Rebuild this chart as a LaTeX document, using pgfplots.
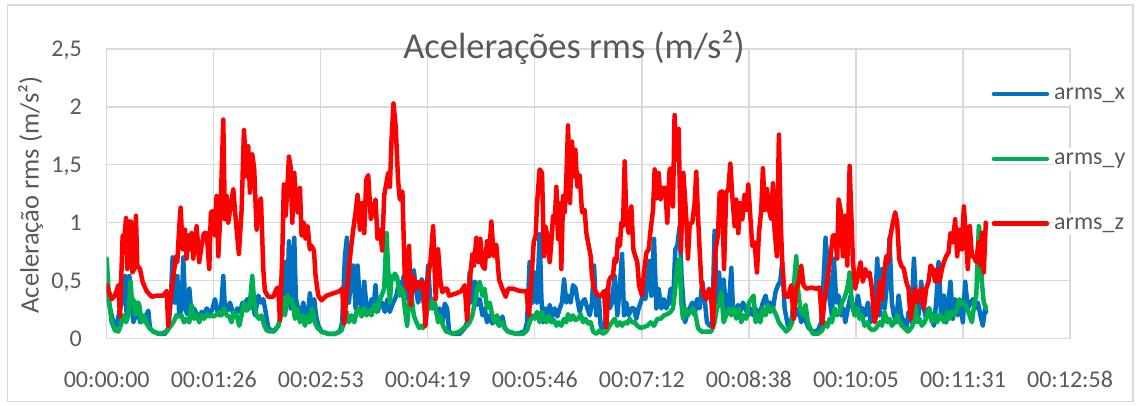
\documentclass[border=0pt]{standalone}
\usepackage{fontspec}
\setmainfont{Carlito}
\usepackage{pgfplots}
\usepackage{pgfplotstable}
\pgfplotsset{compat=1.18}
\definecolor{txtgray}{HTML}{595959}
\definecolor{gridgray}{HTML}{D9D9D9}
\definecolor{xblue}{HTML}{0070C0}
\definecolor{ygreen}{HTML}{00B050}
\definecolor{zred}{HTML}{FF0000}

% time in seconds, value in m/s^2
\pgfplotstableread{
t v
0 0.43
2.7 0.26
5.4 0.14
8 0.11
10.2 0.23
12.1 0.31
14.8 0.54
16.1 0.20
18.3 0.54
20.1 0.31
21.5 0.14
23.6 0.20
25.5 0.31
26.9 0.14
29.6 0.17
31.7 0.20
33.6 0.24
34.9 0.09
37.6 0.06
41.7 0.04
47 0.04
49.7 0.09
51.6 0.31
53.2 0.70
55.1 0.31
57 0.54
58.6 0.20
60.5 0.26
61.8 0.70
63.4 0.26
65 0.21
66.7 0.43
68.5 0.20
70.4 0.26
72.6 0.21
74.7 0.17
76.6 0.23
78.5 0.20
80.7 0.26
83.3 0.21
85.5 0.26
87.4 0.34
88.7 0.26
90.9 0.20
92.7 0.31
94.1 0.54
95.4 0.26
97.3 0.24
99.5 0.31
101.6 0.23
103.5 0.20
105.4 0.26
107.5 0.23
109.7 0.31
111.6 0.30
113.5 0.34
115.1 0.26
117 0.34
119.7 0.20
122.4 0.37
124.5 0.31
126.4 0.34
128.3 0.23
130.4 0.09
134.5 0.06
138.5 0.11
140.6 0.20
142.5 0.49
144.4 0.66
145.8 0.31
147.1 0.84
148.4 0.26
149.8 0.37
151.4 0.87
152.7 0.34
154.6 0.26
156.8 0.17
158.7 0.31
160.5 0.20
162.2 0.14
164 0.39
165.4 0.26
167.5 0.34
168.9 0.20
170.8 0.11
173.4 0.06
178.8 0.04
184.2 0.04
188.2 0.06
190.1 0.14
192.3 0.71
193.9 0.87
195.5 0.31
197.1 0.49
199 0.63
200.9 0.26
202.5 0.63
204.4 0.31
206.3 0.26
207.9 0.49
209.8 0.26
211.6 0.23
213.8 0.34
215.4 0.26
217 0.46
218.6 0.23
220.5 0.29
222.4 0.31
224.5 0.23
226.7 0.34
228.5 0.23
231.2 0.31
233.9 0.37
236 0.49
237.9 0.43
239.8 0.54
241.9 0.43
244.1 0.31
246 0.49
247.9 0.59
249.5 0.43
251.4 0.31
252.7 0.37
254.3 0.51
255.9 0.31
257.5 0.23
259.4 0.63
261.3 0.31
262.9 0.26
264.8 0.31
266.7 0.20
268.8 0.26
271 0.14
272.9 0.30
274.8 0.26
276.4 0.06
279.6 0.04
285 0.04
289 0.09
290.9 0.14
293 0.57
295.2 0.31
297.1 0.49
299 0.29
301.1 0.34
303.3 0.20
305.1 0.26
307 0.14
309.2 0.20
311.3 0.13
314 0.17
316.7 0.11
319.4 0.19
321.3 0.09
324 0.06
330.7 0.04
337.4 0.06
339.3 0.14
341.4 0.66
343.6 0.31
345.5 0.57
347.4 0.31
349.5 0.90
350.9 0.34
352.2 0.14
354.1 0.26
356.3 0.20
357.6 0.29
359.5 0.19
361.6 0.26
363.8 0.19
365.7 0.26
367.5 0.31
369.2 0.51
371 0.31
372.4 0.37
374.5 0.31
376.4 0.46
378.3 0.44
379.9 0.34
381.8 0.23
383.7 0.31
385.8 0.34
388 0.26
389.9 0.20
391.7 0.31
393.4 0.63
395.2 0.20
397.1 0.37
398.7 0.11
400.6 0.09
402.5 0.14
404.1 0.43
406 0.26
407.9 0.31
410 0.54
412.2 0.20
414.1 0.43
416 0.73
417.6 0.20
419.4 0.31
421.3 0.20
423.5 0.26
425.6 0.26
427.5 0.17
429.4 0.26
431 0.31
432.9 0.37
434.8 0.34
436.4 0.49
438.3 0.67
439.6 0.37
441.8 0.86
443.7 0.26
445.5 0.43
447.7 0.26
449.8 0.34
451.7 0.26
453.6 0.31
455.2 0.43
457.1 0.29
459 0.77
460.6 0.80
462.5 0.97
464 0.54
465.5 0.31
466.8 0.14
468.4 0.20
470.6 0.26
472.7 0.31
474.6 0.20
476.5 0.34
478.6 0.26
480.8 0.49
482.7 0.34
484.5 0.14
486.7 0.11
488.9 0.14
490.7 0.93
492.6 0.31
494.2 0.57
496.1 0.37
498 0.51
500.1 0.23
502.3 0.29
504.2 0.61
505.5 0.26
507.7 0.20
509.6 0.29
511.4 0.23
513.6 0.31
515.7 0.26
517.6 0.20
519.5 0.26
521.7 0.20
523.8 0.26
525.7 0.19
527.6 0.23
529.7 0.31
531.9 0.37
533.8 0.26
535.6 0.31
537.8 0.26
539.9 0.40
541.8 0.46
543.7 0.49
545.3 0.66
547.2 0.26
549.9 0.11
552.6 0.14
554.5 0.31
556.6 0.20
558.8 0.26
560.6 0.14
562.5 0.23
564.7 0.14
566.8 0.09
570.1 0.06
574.1 0.07
576.8 0.14
578.7 0.51
580.3 0.87
582.2 0.60
583.5 0.34
585.4 0.20
587 0.69
588.9 0.31
590.8 0.37
592.9 0.20
594.6 0.26
596.2 0.14
598.3 0.26
600.5 0.37
602.4 0.26
604.2 0.20
606.4 0.37
608.5 0.23
610.4 0.26
612.3 0.20
614.5 0.31
616.6 0.14
618.5 0.20
620.4 0.31
622 0.69
623.9 0.20
625.8 0.60
627.9 0.26
630.1 0.49
631.9 0.87
633.8 0.31
635.4 0.20
637.3 0.14
639.2 0.37
641.3 0.20
643.5 0.14
645.4 0.09
647.3 0.23
649.4 0.14
651.6 0.69
653.4 0.31
655.3 0.20
657.5 0.49
659.6 0.26
661.5 0.17
663.4 0.26
665.5 0.20
667.7 0.11
669.6 0.31
671.5 0.66
673.6 0.20
675.8 0.37
677.6 0.14
679.5 0.31
681.1 0.49
683 0.17
684.9 0.34
687.1 0.20
689.2 0.31
691.1 0.14
693 0.49
695.1 0.26
697.3 0.31
699.2 0.34
701.1 0.26
703.2 0.31
705.3 0.20
707.2 0.11
709.1 0.26
709.9 0.23
}\armsx

\pgfplotstableread{
t v
0 0.69
2.1 0.31
4 0.14
6.7 0.07
9.4 0.06
11.3 0.11
13.4 0.20
15.6 0.14
17.5 0.20
19.3 0.49
20.4 0.31
21.5 0.34
23.1 0.20
24.7 0.31
26.3 0.29
28.2 0.14
30.1 0.20
32.2 0.13
34.4 0.09
37.6 0.06
43 0.04
48.4 0.06
51.1 0.10
53.8 0.14
56.4 0.20
58.6 0.19
60.5 0.20
62.4 0.14
64.5 0.17
66.7 0.14
68.5 0.29
70.4 0.17
72.6 0.20
74.7 0.14
76.6 0.20
78.5 0.17
80.7 0.21
82.8 0.19
84.7 0.20
86.6 0.19
88.7 0.21
90.9 0.23
92.7 0.20
94.6 0.26
96.8 0.20
98.9 0.19
100.8 0.14
102.7 0.23
104.9 0.20
107 0.11
108.9 0.20
110.8 0.31
112.9 0.24
115.3 0.27
117.5 0.54
119.1 0.31
121 0.20
122.9 0.17
125 0.20
127.2 0.11
129.1 0.07
131.8 0.06
135.8 0.07
138.5 0.11
140.6 0.20
142.5 0.34
143.9 0.20
146 0.37
147.9 0.31
149.8 0.34
151.9 0.17
154.1 0.26
156 0.14
157.9 0.20
160 0.11
162.2 0.20
164 0.14
165.9 0.26
168.1 0.14
170.2 0.09
173.4 0.06
178.8 0.04
184.2 0.04
189.6 0.07
191.7 0.14
193.6 0.23
195.5 0.14
197.6 0.20
199.8 0.14
201.7 0.23
203.6 0.26
205.7 0.19
207.9 0.26
209.8 0.20
211.6 0.24
213.8 0.20
215.9 0.29
217.8 0.23
219.7 0.31
221.9 0.37
224 0.43
225.9 0.91
227.2 0.60
228.6 0.31
229.9 0.54
231.3 0.51
232.5 0.56
234.4 0.53
236.6 0.37
238.7 0.43
240.6 0.26
242.5 0.11
244.1 0.31
246 0.37
247.9 0.20
250 0.14
252.2 0.09
254 0.11
255.4 0.09
257.5 0.14
259.4 0.31
261.3 0.26
263.5 0.34
265.6 0.26
267.5 0.14
269.4 0.19
271.5 0.11
274.2 0.06
279.6 0.04
285 0.06
288.2 0.09
290.9 0.11
293 0.14
295.2 0.20
297.1 0.31
299 0.43
301.1 0.49
303.3 0.37
305.1 0.43
307 0.26
309.2 0.31
311.3 0.20
313.2 0.14
315.1 0.20
317.2 0.11
319.4 0.14
321.3 0.09
324 0.06
330.7 0.04
336.1 0.04
339.3 0.07
341.4 0.14
343.6 0.20
345.5 0.17
347.4 0.23
349.5 0.14
351.4 0.23
353 0.17
354.9 0.14
356.8 0.20
358.9 0.14
361.1 0.16
363 0.11
364.9 0.14
367 0.11
369.2 0.17
371 0.14
372.4 0.21
374.5 0.16
376.4 0.20
378.3 0.16
380.5 0.17
382.6 0.21
384.5 0.14
386.4 0.17
388.5 0.13
390.7 0.14
392.6 0.06
395.2 0.04
397.9 0.07
400.6 0.04
403.3 0.06
406 0.11
407.9 0.14
410 0.17
412.2 0.11
414.1 0.14
416 0.11
418.1 0.14
420.3 0.13
422.1 0.17
424 0.14
426.2 0.14
428.3 0.11
431 0.09
433.7 0.10
436.4 0.11
439.1 0.14
441.8 0.11
444.5 0.17
447.1 0.17
449.8 0.20
452.5 0.21
455.2 0.23
457.1 0.26
459 0.43
460.6 0.63
462.5 0.69
463.8 0.31
465.2 0.17
467.3 0.26
469.2 0.20
471.1 0.23
473.3 0.26
475.4 0.20
477.3 0.09
480 0.06
484 0.06
488 0.06
490.7 0.14
492.6 0.26
494.8 0.31
496.1 0.40
498 0.14
500.1 0.20
502.3 0.26
504.2 0.20
506.1 0.26
508.2 0.17
510.4 0.26
512.2 0.14
514.1 0.20
516.3 0.17
518.4 0.31
520.3 0.34
522.2 0.37
523.8 0.14
525.7 0.20
527.6 0.14
529.7 0.26
531.9 0.20
533.8 0.29
535.6 0.23
537.8 0.26
540.5 0.20
542.6 0.14
544.5 0.11
546.4 0.09
548.5 0.06
551.2 0.09
553.4 0.14
555.3 0.54
556.6 0.71
558 0.43
559.8 0.26
562 0.20
564.1 0.29
566 0.14
567.9 0.09
570.1 0.04
574.1 0.04
577.6 0.07
579.5 0.14
581.7 0.10
583.5 0.17
585.4 0.14
587.6 0.26
589.7 0.20
591.6 0.23
593.5 0.31
595.1 0.34
597 0.40
598.3 0.46
599.7 0.57
601.5 0.31
603.7 0.20
605.9 0.26
607.7 0.17
609.6 0.20
611.8 0.11
613.9 0.14
615.8 0.09
618.5 0.07
621.2 0.09
623.9 0.14
625.8 0.11
627.9 0.23
630.1 0.14
631.9 0.17
633.8 0.11
636 0.14
638.1 0.20
640 0.14
641.9 0.11
644 0.09
646.7 0.06
649.4 0.09
651.6 0.14
652.6 0.29
654.3 0.14
656.1 0.17
658 0.11
660.2 0.14
662.3 0.20
664.2 0.26
666.1 0.14
668.2 0.20
670.4 0.14
672.3 0.21
674.2 0.17
676.3 0.14
678.5 0.23
680.3 0.17
682.2 0.23
684.4 0.20
686.5 0.26
688.4 0.34
690.3 0.29
692.4 0.31
694.6 0.26
696.5 0.20
698.4 0.14
700.5 0.31
701.9 0.37
703.2 0.71
704 0.97
705.1 0.89
706.4 0.49
708 0.31
709.9 0.26
}\armsy

\pgfplotstableread{
t v
0 0.46
4 0.34
6.7 0.37
9.4 0.46
10.7 0.19
12.9 0.89
14 0.83
15.6 1.04
16.7 0.60
18.3 1.01
19.6 1.01
20.7 0.57
22.3 0.60
23.6 1.06
24.7 0.63
26.9 0.60
29 0.49
32.2 0.41
36.3 0.36
40.3 0.37
45.7 0.37
48.4 0.41
49.7 0.11
51.1 0.31
53.8 0.54
55.9 0.71
57 0.66
58.6 0.97
59.7 1.13
61.3 0.77
63.2 0.94
64.5 0.69
65.9 0.89
67.2 0.77
68.5 0.91
69.9 0.69
72.6 0.97
74.7 0.66
76.6 0.80
78.5 0.91
80.7 0.91
82.8 0.60
84.1 1.09
86 1.10
87.4 0.89
88.7 1.23
90.1 0.71
91.9 1.11
94.1 1.89
95.4 1.03
96.8 1.23
98.1 1.00
100 1.14
102.2 1.29
103.5 1.11
104.9 0.94
106.7 0.73
108.9 1.11
110.8 1.80
112.9 1.40
114.3 1.66
115.6 1.26
117.5 1.59
119.1 1.46
121 0.94
122.9 1.17
124.5 1.21
126.4 0.60
127.7 0.41
130.4 0.36
134.5 0.36
137.1 0.43
138.5 0.44
139.8 0.16
141.7 0.71
143 1.33
144.4 1.06
145.8 1.29
147.1 1.57
148.4 1.49
149.8 1.00
151.4 1.43
152.7 1.23
154.1 1.09
156 1.30
157.3 0.89
159.2 1.00
160.5 0.86
162.2 0.97
164 0.77
165.4 0.80
167.3 0.76
168.6 0.54
170.8 0.37
173.4 0.33
177.5 0.37
182.9 0.39
188.2 0.41
190.1 0.43
191.7 0.13
193.6 0.37
195.5 0.60
197.1 0.77
199 0.94
200.9 1.09
202.5 1.24
204.4 0.94
206.3 1.17
207.9 0.91
209.5 1.37
211.1 1.41
213.2 1.03
215.1 1.11
217 1.20
218.6 0.86
220.5 0.94
222.4 0.76
224 1.24
225.6 1.33
227.2 1.43
228.6 1.31
229.9 1.71
231.5 2.03
233.3 1.83
235.2 1.37
236.6 1.20
238.7 1.27
240.6 0.54
242.5 0.43
244.1 0.80
245.4 0.29
247.3 0.54
249.5 0.43
251.4 0.49
253.2 0.44
255.4 0.49
257.3 0.11
259.4 0.54
261.3 0.66
263.5 0.97
265.6 0.34
267.5 0.77
269.4 0.49
271 0.40
272.9 0.43
274.8 0.43
276.4 0.37
282.3 0.39
286.3 0.41
289 0.46
290.9 0.16
293 0.49
295.2 0.73
296.5 0.63
298.4 0.87
300.3 0.66
301.6 0.86
303.3 0.63
305.1 0.60
307 0.84
308.6 0.71
310.5 1.01
312.4 0.71
314.5 0.81
316.7 0.51
319.4 0.43
322.1 0.36
324 0.43
328 0.43
333.4 0.41
338.8 0.41
340.9 0.20
342.8 0.51
344.7 0.83
346.3 0.89
347.4 1.17
349.5 1.46
351.4 1.43
353 0.71
354.1 0.97
355.7 0.89
357.6 0.66
358.9 0.83
360.3 1.06
361.6 1.00
363 1.31
364.3 0.86
365.7 1.17
367 0.60
368.4 1.23
369.7 1.09
371 1.37
372.4 1.84
374 1.17
375.6 1.70
377.2 1.40
378.3 1.63
379.9 1.31
381.8 1.41
383.7 1.09
385.8 1.11
387.2 0.91
389.1 0.80
390.7 0.71
391.7 0.54
393.4 0.43
396.6 0.37
399.3 0.37
401.4 0.41
403.3 0.10
405.2 0.49
406.8 0.53
408.7 0.54
410 0.69
411.4 0.66
412.7 0.86
414.3 0.80
415.4 1.00
416.8 0.97
418.1 1.53
419.4 1.06
421.3 0.91
423.5 1.14
425.1 0.77
426.7 0.71
428.3 0.66
429.7 0.46
431 0.41
432.1 0.37
433.7 0.57
435.6 0.74
437.5 0.77
439.1 0.94
441 1.11
442.3 1.46
443.7 1.21
445.5 1.43
447.1 1.20
449 1.30
450.9 1.30
452.5 1.00
454.4 1.46
455.7 1.47
457.1 1.14
458.4 1.93
460 1.54
461.7 1.81
463.5 0.75
465.5 1.43
467.9 1.03
469.2 0.69
470.6 0.99
472.7 1.00
474.6 1.17
475.9 1.44
477.3 1.06
478.6 0.77
480 0.49
481.9 0.37
484 0.34
486.2 0.43
488 0.34
489.4 0.10
491.5 0.77
493.4 0.89
494.8 1.26
496.9 1.27
498.3 0.60
500.1 1.26
501.8 1.29
503.4 1.51
505 1.23
506.9 0.97
508.2 1.20
509.8 0.91
511.4 1.17
513.1 1.03
514.9 1.24
516.3 1.11
517.9 1.33
519.5 1.06
521.1 0.80
523 0.83
524.9 0.57
526.5 0.91
528.4 1.11
529.7 1.47
531.3 1.11
533 1.29
534.6 1.11
536.4 1.03
537.8 1.34
539.1 0.94
541 0.71
542.6 1.76
544.2 0.97
545.3 0.66
547.2 0.37
549.9 0.36
552.6 0.46
554.5 0.17
556.6 0.43
558.8 0.49
560.6 0.63
562.5 0.46
564.7 0.43
568.7 0.44
572.7 0.43
575.4 0.44
577.6 0.13
579.5 0.34
582.2 0.54
584.3 0.71
586.2 0.89
588.1 0.89
589.7 0.69
590.8 1.20
592.4 1.11
594.3 0.71
596.2 1.06
597.8 0.63
599.7 1.49
601 1.09
602.4 0.66
604.2 0.43
606.4 0.54
608.5 0.66
610.4 0.49
612.3 0.60
613.9 0.54
615.8 0.57
617.7 0.43
619.8 0.14
622 0.23
623.9 0.49
625.8 0.34
627.4 0.54
629.2 0.71
631.1 0.66
632.7 0.89
634.6 1.00
636.5 1.09
638.1 1.00
639.7 0.69
641.3 0.63
643.5 0.60
645.4 0.49
647.3 0.43
648.9 0.17
650.8 0.31
652.6 0.43
654.3 0.31
656.1 0.40
658 0.43
659.6 0.26
661.5 0.43
663.4 0.49
665 0.63
666.9 0.60
668.8 0.49
670.4 0.60
672.3 0.49
674.2 0.60
675.8 0.66
677.6 0.71
679.5 0.74
681.1 0.91
683 0.83
684.9 1.03
686.5 0.71
688.4 0.94
690.3 0.77
691.9 1.14
693.5 0.89
695.1 0.60
696.7 0.97
698.4 0.71
700 0.71
701.9 0.66
703.7 0.83
705.3 0.63
706.4 0.91
708 0.57
709.6 1.00
}\armsz

\begin{document}
\begin{tikzpicture}
\useasboundingbox (-106.7pt,-67.5pt) rectangle (1033.3pt,338.5pt);
\draw[gridgray, line width=1.3pt] (-99.4pt,-63.2pt) rectangle (1026.3pt,333.5pt);
\begin{axis}[
  at={(0pt,0pt)}, anchor=south west,
  scale only axis, width=963.3pt, height=289.5pt,
  xmin=0, xmax=777.6, ymin=0, ymax=2.5,
  xtick={0,86.4,172.8,259.2,345.6,432,518.4,604.8,691.2,777.6},
  xticklabels={00:00:00,00:01:26,00:02:53,00:04:19,00:05:46,00:07:12,00:08:38,00:10:05,00:11:31,00:12:58},
  ytick={0,0.5,1,1.5,2,2.5},
  yticklabels={0,{0,5},1,{1,5},2,{2,5}},
  major tick length=0pt,
  grid=major,
  grid style={gridgray, line width=1.3pt},
  axis line style={gridgray, line width=1.3pt},
  tick label style={font=\fontsize{24}{24}\selectfont, text=txtgray},
  xticklabel style={anchor=base, inner sep=0pt, yshift=-48.8pt},
  yticklabel style={anchor=east, inner sep=0pt, text height=15.2pt, text depth=0pt, xshift=-24.7pt},
  legend style={at={(0.9187,0.8826)}, anchor=north west, draw=none, fill=none,
    inner sep=0pt, outer sep=0pt, row sep=42.8pt, column sep=5pt,
    font=\fontsize{24}{24}\selectfont, text=txtgray,
    nodes={inner sep=0pt, text height=17pt, text depth=5pt, fill=white}},
  legend cell align=left,
  legend image code/.code={\draw[#1] (0pt,0pt) -- (53pt,0pt);},
  every axis plot/.append style={line width=4.5pt, line join=round, line cap=round, mark=none},
  clip=true,
]
\addplot[xblue] table[x=t, y=v] {\armsx};
\addlegendentry{arms\_x}
\addplot[ygreen] table[x=t, y=v] {\armsy};
\addlegendentry{arms\_y}
\addplot[zred] table[x=t, y=v] {\armsz};
\addlegendentry{arms\_z}
\end{axis}
\node[anchor=base, font=\fontsize{36.5}{36.5}\selectfont, text=txtgray] at (467.3pt,280.2pt) {Acelerações rms (m/s²)};
\node[rotate=90, font=\fontsize{26.5}{26.5}\selectfont, text=txtgray] at (-76pt,143.5pt) {Aceleração rms (m/s²)};
\end{tikzpicture}
\end{document}
